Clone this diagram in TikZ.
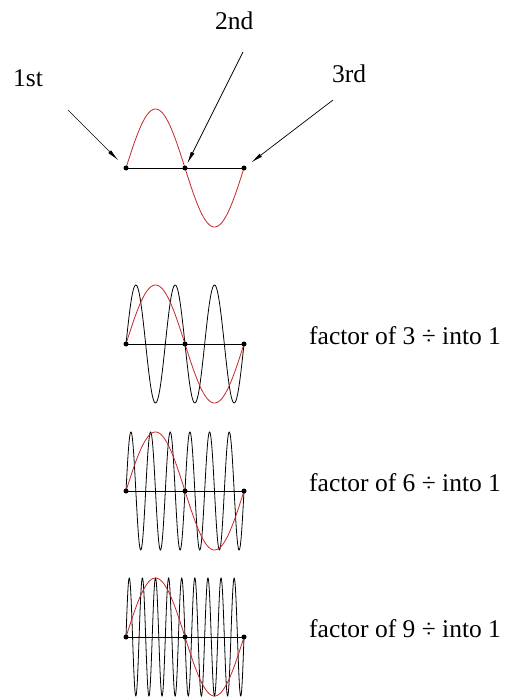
\documentclass[tikz,border=0pt]{standalone}
\usepackage{fontspec}
\setmainfont{Liberation Serif}
\usepackage{xcolor}
\definecolor{wavered}{HTML}{C62828}
\usepackage{tikz}
\usetikzlibrary{
  arrows.meta, positioning, calc
}

\tikzset{
  dot/.style={circle, fill=black, inner sep=0pt, minimum size=5pt},
  ordinal/.style={font=\fontsize{25.5}{30}\selectfont, inner sep=0pt, anchor=base west},
  pointer/.style={-{Latex[length=12pt,width=4pt]}, line width=0.7pt},
  slowwave/.style={wavered, line width=0.8pt},
  fastwave/.style={black, line width=0.8pt},
}

\begin{document}
\begin{tikzpicture}[x=1pt, y=-1pt]
    \useasboundingbox (0,0) rectangle (514,698);

    % single cycle with its three zero crossings
    \draw[slowwave] plot[domain=0:360, samples=90]
      ({126+\x/360*118}, {168-59*sin(\x)});
    \node[dot] (zero1) at (126,168) {};
    \node[dot] (zero2) at (185,168) {};
    \node[dot] (zero3) at (244,168) {};
    \draw[line width=0.8pt] (zero1.center) -- (zero3.center);

    \node[ordinal] (first) at (13,87) {1st};
    \node[ordinal] (second) at (215,30) {2nd};
    \node[ordinal] (third) at (332,83) {3rd};
    \coordinate (tail1) at (68,110);
    \coordinate (tail2) at (243,52);
    \coordinate (tail3) at (333,100);
    \draw[pointer, shorten >=11pt] (tail1) -- (zero1.center);
    \draw[pointer, shorten >=5pt] (tail2) -- (zero2.center);
    \draw[pointer, shorten >=9pt] (tail3) -- (zero3.center);

    % faster waves against the same cycle
    \foreach \k/\ax in {3/344, 6/491, 9/637} {
      \draw[fastwave] plot[domain=0:360, samples=50*\k]
        ({126+\x/360*118}, {\ax-59*sin(\k*\x)});
      \draw[slowwave] plot[domain=0:360, samples=90]
        ({126+\x/360*118}, {\ax-59*sin(\x)});
      \node[dot] (left\k) at (126,\ax) {};
      \node[dot] (mid\k) at (185,\ax) {};
      \node[dot] (right\k) at (244,\ax) {};
      \draw[line width=0.8pt] (left\k.center) -- (right\k.center);
      \node[ordinal] (factor\k) at (309,\ax) {factor of \k\ ÷ into 1};
    }
\end{tikzpicture}
\end{document}
